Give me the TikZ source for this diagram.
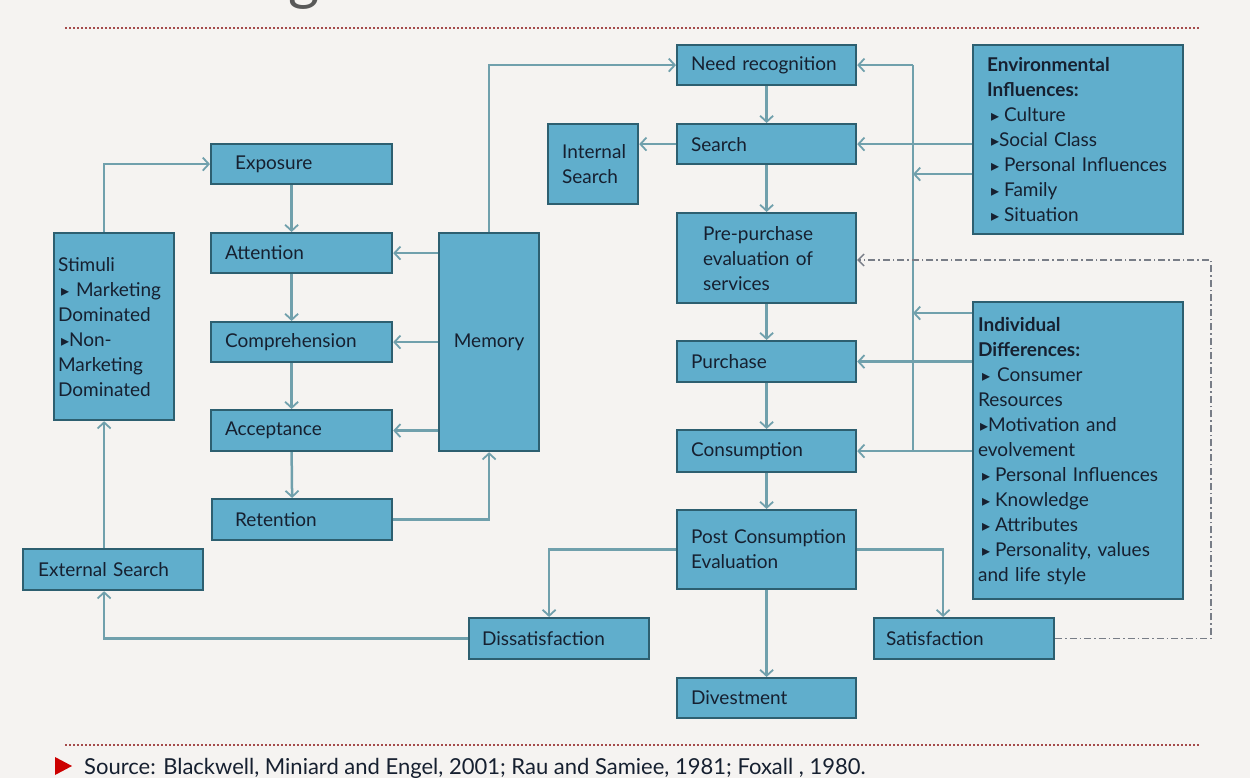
\documentclass[tikz,border=0pt]{standalone}
\usepackage{fontspec}
\setmainfont{Lato}
\newfontfamily\symf{DejaVu Sans}
\usetikzlibrary{arrows.meta}
\definecolor{bg}{RGB}{245,243,241}
\definecolor{boxfill}{RGB}{96,174,204}
\definecolor{boxline}{RGB}{45,95,112}
\definecolor{conn}{RGB}{112,160,172}
\definecolor{txt}{RGB}{22,32,48}
\definecolor{reddot}{RGB}{165,75,75}
\definecolor{dashc}{RGB}{120,125,135}
\newcommand\bl{{\symf\fontsize{16}{16}\selectfont ▸}}
\begin{document}
\begin{tikzpicture}[x=1pt,y=-1pt,
  box/.style={draw=boxline, line width=2.2pt, fill=boxfill, text=txt, align=left,
    font=\fontsize{19}{25}\selectfont, inner ysep=0pt, anchor=north west},
  arr/.style={draw=conn, line width=2.5pt, -{Straight Barb[length=6pt,width=13pt,line width=1.8pt]}},
  plain/.style={draw=conn, line width=2.5pt},
  ddash/.style={draw=dashc, line width=1.4pt, dash pattern=on 7pt off 3pt on 1.5pt off 3pt},
  rdot/.style={draw=reddot, line width=1.6pt, dash pattern=on 2pt off 2pt}]
\fill[bg] (0,0) rectangle (1250,778);
\useasboundingbox (0,0) rectangle (1250,778);

% partial title glyph (cut off at the top edge, as in the reference)
\node[anchor=base, text=black!65, inner sep=0pt, font=\fontsize{60}{60}\selectfont] (ttl) at (304,-1) {g};

% red dotted rules
\coordinate (r1a) at (65,28); \coordinate (r1b) at (1200,28);
\coordinate (r2a) at (65,745); \coordinate (r2b) at (1200,745);
\draw[rdot] (r1a) -- (r1b);
\draw[rdot] (r2a) -- (r2b);

% boxes
\node[box, minimum width=179pt, minimum height=40pt, text width=151pt, inner xsep=14pt] (need) at (676,44) {Need recognition};
\node[box, minimum width=179pt, minimum height=40pt, text width=151pt, inner xsep=14pt] (search) at (676,123) {Search};
\node[box, minimum width=90pt, minimum height=80pt, text width=62pt, inner xsep=14pt] (internal) at (547,123) {Internal\\Search};
\node[box, minimum width=179pt, minimum height=90pt, text width=127pt, inner xsep=26pt] (pre) at (676,212) {Pre-purchase\\evaluation of\\services};
\node[box, minimum width=179pt, minimum height=41pt, text width=151pt, inner xsep=14pt] (purchase) at (676,340) {Purchase};
\node[box, minimum width=179pt, minimum height=42pt, text width=151pt, inner xsep=14pt] (consumption) at (676,429) {Consumption};
\node[box, minimum width=179pt, minimum height=79pt, text width=151pt, inner xsep=14pt] (post) at (676,509) {\mbox{Post Consumption}\\Evaluation};
\node[box, minimum width=179pt, minimum height=40pt, text width=151pt, inner xsep=14pt] (divest) at (676,677) {Divestment};
\node[box, minimum width=180pt, minimum height=41pt, text width=154pt, inner xsep=13pt] (dissat) at (468,617) {Dissatisfaction};
\node[box, minimum width=180pt, minimum height=41pt, text width=156pt, inner xsep=12pt] (satisf) at (873,617) {Satisfaction};
\node[box, minimum width=180pt, minimum height=41pt, text width=150pt, inner xsep=15pt] (external) at (22,548) {External Search};
\node[box, minimum width=120pt, minimum height=187pt, text width=112pt, inner xsep=4pt] (stimuli) at (53,232)
  {Stimuli\\\hspace*{3pt}\bl\hspace*{7pt}Marketing\\Dominated\\\hspace*{3pt}\bl Non-\\Marketing\\Dominated};
\node[box, minimum width=181pt, minimum height=40pt, text width=133pt, inner xsep=24pt] (exposure) at (210,143) {Exposure};
\node[box, minimum width=181pt, minimum height=40pt, text width=153pt, inner xsep=14pt] (attention) at (210,232) {Attention};
\node[box, minimum width=181pt, minimum height=40pt, text width=153pt, inner xsep=14pt] (comprehension) at (210,321) {Comprehension};
\node[box, minimum width=181pt, minimum height=41pt, text width=153pt, inner xsep=14pt] (acceptance) at (210,409) {Acceptance};
\node[box, minimum width=180pt, minimum height=41pt, text width=134pt, inner xsep=23pt] (retention) at (211,498) {Retention};
\node[box, minimum width=100pt, minimum height=218pt, text width=80pt, inner xsep=10pt, align=center] (memory) at (438,232) {Memory};
\node[box, minimum width=210pt, minimum height=189pt, text width=182pt, inner xsep=14pt] (env) at (972,44)
  {\textbf{Environmental}\\\textbf{Influences:}\\\hspace*{4pt}\bl\hspace*{5pt}Culture\\\hspace*{4pt}\bl Social Class\\\hspace*{4pt}\bl\hspace*{5pt}Personal Influences\\\hspace*{4pt}\bl\hspace*{5pt}Family\\\hspace*{4pt}\bl\hspace*{5pt}Situation};
\node[box, minimum width=210pt, minimum height=297pt, text width=200pt, inner xsep=5pt] (ind) at (972,301)
  {\textbf{Individual}\\\textbf{Differences:}\\\hspace*{4pt}\bl\hspace*{7pt}Consumer\\Resources\\\hspace*{2pt}\bl Motivation and\\evolvement\\\hspace*{4pt}\bl\hspace*{5pt}Personal Influences\\\hspace*{4pt}\bl\hspace*{5pt}Knowledge\\\hspace*{4pt}\bl\hspace*{5pt}Attributes\\\hspace*{4pt}\bl\hspace*{5pt}Personality, values\\and life style};

% left chain
\draw[arr] ([xshift=-10pt]stimuli.north) |- (exposure.west);
\draw[arr] ([xshift=-10pt]exposure.south) -- ([xshift=-10pt]attention.north);
\draw[arr] ([xshift=-10pt]attention.south) -- ([xshift=-10pt]comprehension.north);
\draw[arr] ([xshift=-10pt]comprehension.south) -- ([xshift=-10pt]acceptance.north);
\draw[arr] ([xshift=-10pt]acceptance.south) -- ([xshift=-10pt]retention.north);
\draw[arr] (retention.east) -| (memory.south);
\draw[arr] (attention.east -| memory.west) -- (attention.east);
\draw[arr] (comprehension.east -| memory.west) -- (comprehension.east);
\draw[arr] (acceptance.east -| memory.west) -- (acceptance.east);
\draw[arr] (memory.north) |- (need.west);
\draw[arr] ([xshift=-9pt]external.north) -- ([xshift=-9pt]external.north |- stimuli.south);

% right chain
\draw[arr] (need.south) -- (search.north);
\draw[arr] (search.south) -- (pre.north);
\draw[arr] (pre.south) -- (purchase.north);
\draw[arr] (purchase.south) -- (consumption.north);
\draw[arr] (consumption.south) -- (post.north);
\draw[arr] (post.south) -- (divest.north);
\draw[arr] (search.west) -- (search.west -| internal.east);
\draw[arr] (post.east) -| ([xshift=-21pt]satisf.north);
\draw[arr] (post.west) -| ([xshift=-10pt]dissat.north);
\draw[arr] (dissat.west) -| ([xshift=-9pt]external.south);

% influence bus
\coordinate (bus) at (913,0);
\draw[plain] (bus |- need.east) -- (bus |- consumption.east);
\draw[arr] (bus |- need.east) -- (need.east);
\draw[arr] (search.east -| env.west) -- (search.east);
\draw[arr] ([yshift=-34.5pt]env.west) -- ([yshift=-34.5pt]env.west -| bus);
\draw[arr] ([yshift=137.5pt]ind.west) -- ([yshift=137.5pt]ind.west -| bus);
\draw[arr] (purchase.east -| ind.west) -- (purchase.east);
\draw[arr] (consumption.east -| ind.west) -- (consumption.east);

% dash-dot feedback
\coordinate (dd) at (1211,260);
\draw[ddash, -{Straight Barb[length=6pt,width=12pt,line width=1.4pt]}] (satisf.east) -| (dd) -- (dd -| pre.east);

% source
\fill[red!80!black] (55,757) -- (72,766) -- (55,775) -- cycle;
\node[anchor=base west, inner sep=0pt, text=txt, font=\fontsize{22}{22}\selectfont] (src) at (84,774)
  {Source: Blackwell, Miniard and Engel, 2001; Rau and Samiee, 1981; Foxall , 1980.};
\end{tikzpicture}
\end{document}
